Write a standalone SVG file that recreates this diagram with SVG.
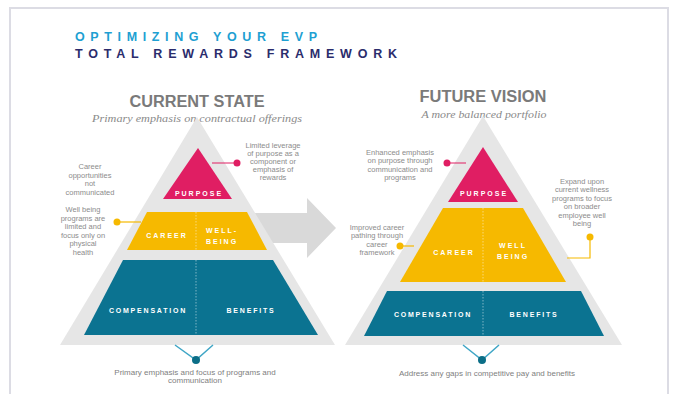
<svg xmlns="http://www.w3.org/2000/svg" width="677" height="394" viewBox="0 0 677 394">
<style>
.note{font-family:"Liberation Sans",Arial,sans-serif;font-size:7.5px;fill:#8c8c8c;text-anchor:middle}
.bot{font-family:"Liberation Sans",Arial,sans-serif;font-size:8px;fill:#808080;text-anchor:middle}
.lab{font-family:"Liberation Sans",Arial,sans-serif;font-size:7px;font-weight:bold;fill:#ffffff;text-anchor:middle;letter-spacing:2px}
.head{font-family:"Liberation Sans",Arial,sans-serif;font-size:16px;font-weight:bold;fill:#7a7a7a;text-anchor:middle}
.sub{font-family:"Liberation Serif","Times New Roman",serif;font-size:10.5px;font-style:italic;fill:#8a8a8a;text-anchor:middle}
.gray{fill:#e6e6e6}
.pink{fill:#e01e63}
.yel{fill:#f6b900}
.teal{fill:#0b7391}
.div{stroke:#ffffff;stroke-opacity:0.6;stroke-width:0.8;stroke-dasharray:1.5 1.5;fill:none}
.pl{stroke:#e01e63;stroke-width:1;fill:none}
.ol{stroke:#f6b900;stroke-width:1.2;fill:none}
.vl{stroke:#3fa6c6;stroke-width:1.5;fill:none}
</style>
<rect x="0" y="0" width="677" height="394" fill="#ffffff"/>
<rect x="10" y="8" width="658" height="400" fill="none" stroke="#dcdce4" stroke-width="2"/>
<g id="title">
<text x="75" y="40.5" font-family="Liberation Sans,Arial,sans-serif" font-size="12.5" font-weight="bold" fill="#1ea0d2" textLength="242" lengthAdjust="spacing">OPTIMIZING YOUR EVP</text>
<text x="75" y="58" font-family="Liberation Sans,Arial,sans-serif" font-size="12.5" font-weight="bold" fill="#2b2c6c" textLength="322" lengthAdjust="spacing">TOTAL REWARDS FRAMEWORK</text>
</g>
<g id="current-heading">
<text class="head" x="197" y="107" textLength="135" lengthAdjust="spacingAndGlyphs">CURRENT STATE</text>
<text class="sub" x="197" y="121.5" textLength="210" lengthAdjust="spacingAndGlyphs">Primary emphasis on contractual offerings</text>
</g>
<g id="future-heading">
<text class="head" x="483" y="102" textLength="127" lengthAdjust="spacingAndGlyphs">FUTURE VISION</text>
<text class="sub" x="484" y="118" textLength="125" lengthAdjust="spacingAndGlyphs">A more balanced portfolio</text>
</g>
<g id="arrow">
<polygon points="250,213 307,213 307,198 336,228 307,258 307,243 250,243" fill="#d9d9d9"/>
</g>
<g id="current-pyramid">
<polygon class="gray" points="197,117 335,345 60,345"/>
<g id="current-purpose">
<polygon class="pink" points="198,148 232,199 163,199"/>
<text class="lab" x="199" y="195.5">PURPOSE</text>
</g>
<g id="current-career-wellbeing">
<polygon class="yel" points="147,212 247,212 267,250 127,250"/>
<line class="div" x1="196" y1="212" x2="196" y2="250"/>
<text class="lab" x="167" y="238">CAREER</text>
<text class="lab" x="222" y="232.5">WELL-</text>
<text class="lab" x="222" y="243.5">BEING</text>
</g>
<g id="current-comp-benefits">
<polygon class="teal" points="123,260 273,260 318,335 84,335"/>
<line class="div" x1="196" y1="260" x2="196" y2="335"/>
<text class="lab" x="148" y="312.5" style="letter-spacing:1.8px">COMPENSATION</text>
<text class="lab" x="251" y="312.5" style="letter-spacing:1.8px">BENEFITS</text>
</g>
</g>
<g id="future-pyramid">
<polygon class="gray" points="483,116 622,345 345,345"/>
<g id="future-purpose">
<polygon class="pink" points="483,147 518,202 448,202"/>
<text class="lab" x="484" y="196">PURPOSE</text>
</g>
<g id="future-career-wellbeing">
<polygon class="yel" points="443,208 523,208 566,282 400,282"/>
<line class="div" x1="483" y1="208" x2="483" y2="282"/>
<text class="lab" x="454" y="254.5">CAREER</text>
<text class="lab" x="513" y="247.5">WELL</text>
<text class="lab" x="513" y="259">BEING</text>
</g>
<g id="future-comp-benefits">
<polygon class="teal" points="387,291 581,291 604,336 364,336"/>
<line class="div" x1="483" y1="291" x2="483" y2="336"/>
<text class="lab" x="433" y="316.5" style="letter-spacing:1.8px">COMPENSATION</text>
<text class="lab" x="534" y="316.5" style="letter-spacing:1.8px">BENEFITS</text>
</g>
</g>
<g id="note-career-left">
<text class="note" x="90" y="169">Career</text>
<text class="note" x="90" y="177.5">opportunities</text>
<text class="note" x="90" y="186">not</text>
<text class="note" x="90" y="194.5">communicated</text>
</g>
<g id="note-wellbeing-left">
<text class="note" x="83" y="212">Well being</text>
<text class="note" x="83" y="220.5">programs are</text>
<text class="note" x="83" y="229">limited and</text>
<text class="note" x="83" y="237.5">focus only on</text>
<text class="note" x="83" y="246">physical</text>
<text class="note" x="83" y="254.5">health</text>
</g>
<g id="note-purpose-left">
<text class="note" x="273" y="148">Limited leverage</text>
<text class="note" x="273" y="156">of purpose as a</text>
<text class="note" x="273" y="164">component or</text>
<text class="note" x="273" y="172">emphasis of</text>
<text class="note" x="273" y="180">rewards</text>
</g>
<g id="note-purpose-right">
<text class="note" x="400" y="154.5">Enhanced emphasis</text>
<text class="note" x="400" y="163">on purpose through</text>
<text class="note" x="400" y="171.5">communication and</text>
<text class="note" x="400" y="180">programs</text>
</g>
<g id="note-career-right">
<text class="note" x="377" y="229.5">Improved career</text>
<text class="note" x="377" y="238">pathing through</text>
<text class="note" x="377" y="246.5">career</text>
<text class="note" x="377" y="255">framework</text>
</g>
<g id="note-wellbeing-right">
<text class="note" x="582" y="183.5">Expand upon</text>
<text class="note" x="582" y="192">current wellness</text>
<text class="note" x="582" y="200.5">programs to focus</text>
<text class="note" x="582" y="209">on broader</text>
<text class="note" x="582" y="217.5">employee well</text>
<text class="note" x="582" y="226">being</text>
</g>
<g id="note-bottom-left">
<text class="bot" x="195" y="374.5">Primary emphasis and focus of programs and</text>
<text class="bot" x="195" y="383">communication</text>
</g>
<g id="note-bottom-right">
<text class="bot" x="487" y="375.5">Address any gaps in competitive pay and benefits</text>
</g>
<g id="connectors">
<line class="pl" x1="212" y1="163" x2="237" y2="163"/>
<circle cx="237" cy="163" r="3.5" fill="#e01e63"/>
<line class="ol" x1="117" y1="222" x2="141" y2="222"/>
<circle cx="117" cy="222" r="3.5" fill="#f6b900"/>
<line class="pl" x1="447" y1="163" x2="466" y2="163"/>
<circle cx="447" cy="163" r="3.5" fill="#e01e63"/>
<line class="ol" x1="400" y1="246" x2="414" y2="246"/>
<circle cx="400" cy="246" r="3.5" fill="#f6b900"/>
<polyline class="ol" points="590,237 590,258 567,258"/>
<circle cx="590" cy="237" r="3.5" fill="#f6b900"/>
<polyline class="vl" points="175,345 196,360 213,345"/>
<circle cx="196" cy="360" r="4" fill="#0b6e87"/>
<polyline class="vl" points="463,345 482,360 499,345"/>
<circle cx="482" cy="360" r="4" fill="#0b6e87"/>
</g>
</svg>
